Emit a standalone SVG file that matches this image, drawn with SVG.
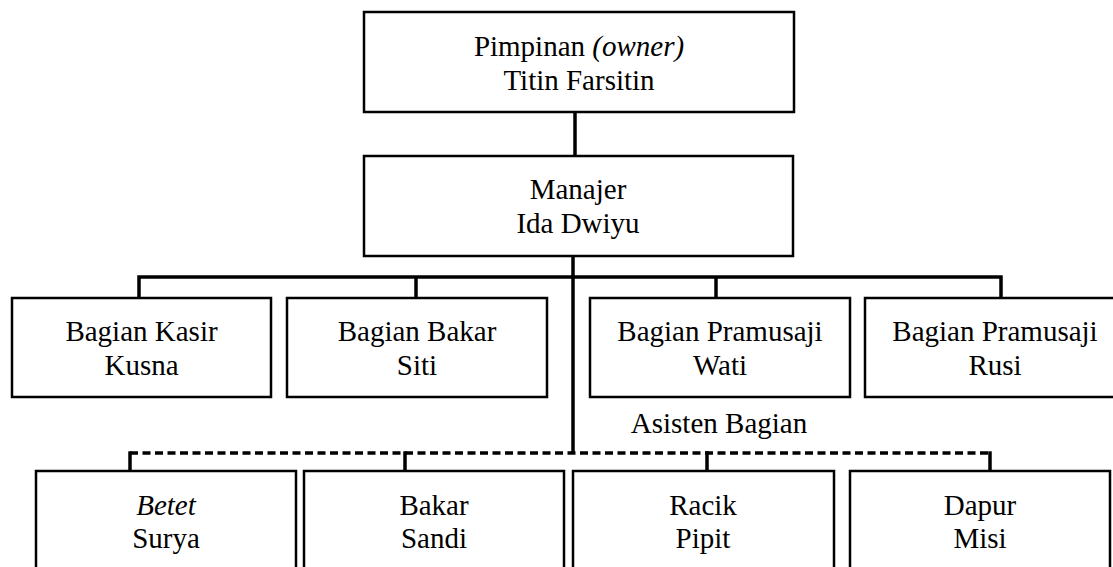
<svg xmlns="http://www.w3.org/2000/svg" width="1113" height="567" viewBox="0 0 1113 567">
<style>
.box{fill:#fff;stroke:#000;stroke-width:2.5}
.t{font-family:"Liberation Serif","Times New Roman",serif;font-size:29px;fill:#000;text-anchor:middle}
.i{font-style:italic}
.c{fill:none;stroke:#000;stroke-width:3.5}
.d{fill:none;stroke:#000;stroke-width:3.5;stroke-dasharray:8 4.5}
</style>
<rect width="1113" height="567" fill="#fff"/>
<g id="connectors">
<line class="c" x1="575" y1="112" x2="575" y2="156"/>
<line class="c" x1="573" y1="256" x2="573" y2="454"/>
<polyline class="c" points="139,298 139,277 1001,277 1001,298"/>
<line class="c" x1="416" y1="277" x2="416" y2="298"/>
<line class="c" x1="716" y1="277" x2="716" y2="298"/>
<path class="d" d="M130,453 H990"/>
<line class="c" x1="130" y1="451.3" x2="130" y2="471"/>
<line class="c" x1="405" y1="451.3" x2="405" y2="471"/>
<line class="c" x1="707" y1="451.3" x2="707" y2="471"/>
<line class="c" x1="990" y1="451.3" x2="990" y2="471"/>
</g>
<g id="pimpinan">
<rect class="box" x="364" y="12" width="430" height="100"/>
<text class="t" x="579" y="56">Pimpinan <tspan class="i">(owner)</tspan></text>
<text class="t" x="579" y="90">Titin Farsitin</text>
</g>
<g id="manajer">
<rect class="box" x="364" y="156" width="429" height="100"/>
<text class="t" x="578" y="199">Manajer</text>
<text class="t" x="578" y="233">Ida Dwiyu</text>
</g>
<g id="kasir">
<rect class="box" x="12" y="298" width="259" height="99"/>
<text class="t" x="141.5" y="341">Bagian Kasir</text>
<text class="t" x="141.5" y="375">Kusna</text>
</g>
<g id="bakar">
<rect class="box" x="287" y="298" width="260" height="99"/>
<text class="t" x="417" y="341">Bagian Bakar</text>
<text class="t" x="417" y="375">Siti</text>
</g>
<g id="pramusaji1">
<rect class="box" x="590" y="298" width="260" height="99"/>
<text class="t" x="720" y="341">Bagian Pramusaji</text>
<text class="t" x="720" y="375">Wati</text>
</g>
<g id="pramusaji2">
<rect class="box" x="865" y="298" width="260" height="99"/>
<text class="t" x="995" y="341">Bagian Pramusaji</text>
<text class="t" x="995" y="375">Rusi</text>
</g>
<g id="asisten-label">
<text class="t" x="719" y="433">Asisten Bagian</text>
</g>
<g id="betet">
<rect class="box" x="36" y="471" width="260" height="110"/>
<text class="t i" x="166" y="515">Betet</text>
<text class="t" x="166" y="548">Surya</text>
</g>
<g id="bakar2">
<rect class="box" x="304" y="471" width="260" height="110"/>
<text class="t" x="434" y="515">Bakar</text>
<text class="t" x="434" y="548">Sandi</text>
</g>
<g id="racik">
<rect class="box" x="573" y="471" width="261" height="110"/>
<text class="t" x="703" y="515">Racik</text>
<text class="t" x="703" y="548">Pipit</text>
</g>
<g id="dapur">
<rect class="box" x="850" y="471" width="260" height="110"/>
<text class="t" x="980" y="515">Dapur</text>
<text class="t" x="980" y="548">Misi</text>
</g>
</svg>
